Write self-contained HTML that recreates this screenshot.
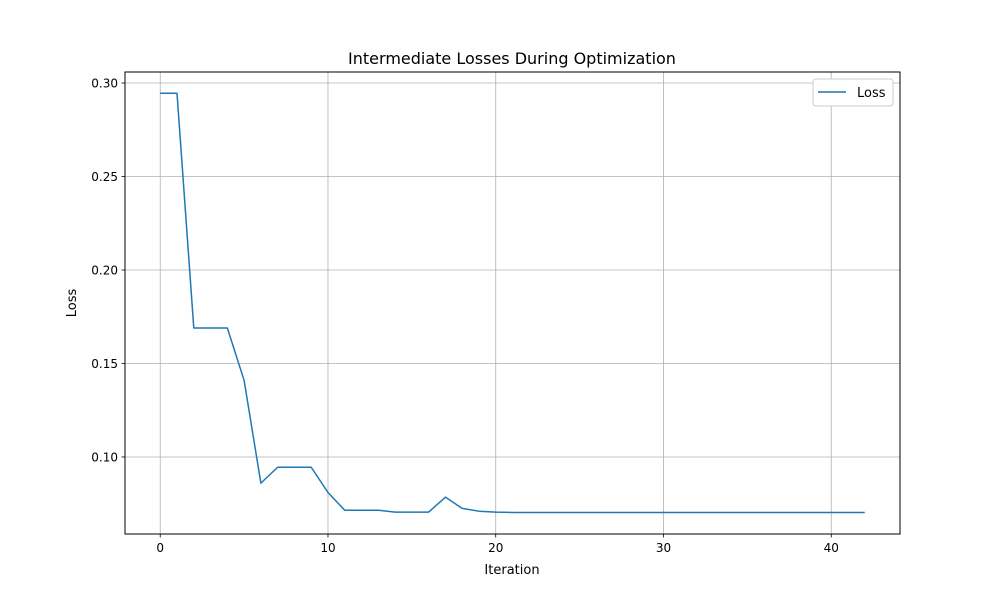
<!DOCTYPE html>
<html><head><meta charset="utf-8"><style>
body{margin:0;background:#fff;}
text{font-family:"DejaVu Sans","Liberation Sans",sans-serif;fill:#000;}
</style></head><body>
<svg id="chart" width="1000" height="600" xmlns="http://www.w3.org/2000/svg">
<rect width="1000" height="600" fill="#fff"/>
<g id="grid"></g>
<g id="ticks"></g>
<g id="series"></g>
<rect x="125" y="72" width="775" height="462" fill="none" stroke="#000" stroke-width="1"/>
<text x="512" y="64" font-size="16" text-anchor="middle">Intermediate Losses During Optimization</text>
<text x="512" y="574" font-size="13" text-anchor="middle">Iteration</text>
<text transform="translate(76,303) rotate(-90)" font-size="13" text-anchor="middle">Loss</text>
<g>
<rect x="813" y="79" width="80" height="27" rx="3" fill="#fff" stroke="#ccc"/>
<line x1="818" y1="92" x2="846" y2="92" stroke="#1f77b4" stroke-width="1.5"/>
<text x="857" y="97" font-size="13">Loss</text>
</g>
</svg>
<script>
const iterations=[0,1,2,3,4,5,6,7,8,9,10,11,12,13,14,15,16,17,18,19,20,21,22,23,24,25,26,27,28,29,30,31,32,33,34,35,36,37,38,39,40,41,42];
const losses=[0.2945,0.2945,0.169,0.169,0.169,0.141,0.086,0.0945,0.0945,0.0945,0.081,0.0715,0.0715,0.0715,0.0705,0.0705,0.0705,0.0785,0.0725,0.071,0.0705,0.0703,0.0703,0.0703,0.0703,0.0703,0.0703,0.0703,0.0703,0.0703,0.0703,0.0703,0.0703,0.0703,0.0703,0.0703,0.0703,0.0703,0.0703,0.0703,0.0703,0.0703,0.0703];
const xTicks=[0,10,20,30,40];
const yTicks=[0.10,0.15,0.20,0.25,0.30];
const yTickLabels=["0.10","0.15","0.20","0.25","0.30"];
const NS="http://www.w3.org/2000/svg";
const X0=125,X1=900,Y0=534,Y1=72;
const xmin=-2.1,xmax=44.1,ymin=0.0588,ymax=0.3059;
const sx=v=>X0+(v-xmin)/(xmax-xmin)*(X1-X0);
const sy=v=>Y0-(v-ymin)/(ymax-ymin)*(Y0-Y1);
function mk(tag,attrs,parent){const e=document.createElementNS(NS,tag);for(const k in attrs)e.setAttribute(k,attrs[k]);parent.appendChild(e);return e;}
const grid=document.getElementById('grid'),ticks=document.getElementById('ticks'),series=document.getElementById('series');
xTicks.forEach(t=>{const x=sx(t);
 let g=mk('line',{x1:x,x2:x,y1:Y1,y2:Y0,stroke:'#b0b0b0','stroke-width':0.8},grid);
 
 
 let tk=mk('line',{x1:x,x2:x,y1:Y0,y2:Y0+3.5,stroke:'#000','stroke-width':0.8},ticks);
 
 
 let tx=mk('text',{x:x,y:Y0+18,'font-size':12,'text-anchor':'middle'},ticks);tx.textContent=t;
 
 
});
yTicks.forEach((t,i)=>{const y=sy(t);
 let g=mk('line',{x1:X0,x2:X1,y1:y,y2:y,stroke:'#b0b0b0','stroke-width':0.8},grid);
 
 
 let tk=mk('line',{x1:X0-3.5,x2:X0,y1:y,y2:y,stroke:'#000','stroke-width':0.8},ticks);
 
 
 let tx=mk('text',{x:X0-7,y:y+4.5,'font-size':12,'text-anchor':'end'},ticks);tx.textContent=yTickLabels[i];
 
 
});
const pts=iterations.map((v,i)=>sx(v).toFixed(2)+','+sy(losses[i]).toFixed(2)).join(' ');
const line=mk('polyline',{points:pts,fill:'none',stroke:'#1f77b4','stroke-width':1.5,'stroke-linejoin':'round'},series);


</script>
</body></html>
